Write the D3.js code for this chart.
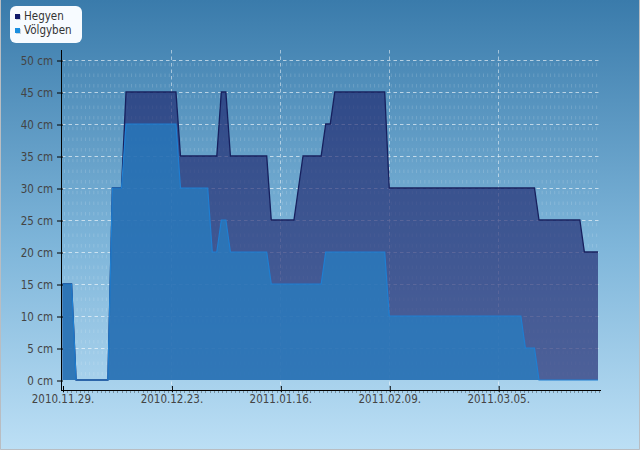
<!DOCTYPE html>
<html>
<head>
<meta charset="utf-8">
<script src="https://cdn.jsdelivr.net/npm/d3@7"></script>
<style>
  html, body { margin: 0; padding: 0; background: #fff; }
  svg { display: block; }
  text { font-family: 'DejaVu Sans Condensed', 'DejaVu Sans', sans-serif; font-stretch: condensed; fill: #444; }
</style>
</head>
<body>
<svg id="chart" width="640" height="450"></svg>
<script>
// ---- data ----
const startDate = "2010-11-29";
const endDate = "2011-03-27";
const seriesNames = ["Hegyen", "Völgyben"];
const hegyen = [
  15,15,15,
  0,0,0,0,0,0,0,0,
  30,30,30,
  45,45,45,45,45,45,45,45,45,45,45,45,
  35,35,35,35,35,35,35,35,35,
  45,45,
  35,35,35,35,35,35,35,35,35,
  25,25,25,25,25,25,
  30,
  35,35,35,35,35,
  40,40,
  45,45,45,45,45,45,45,45,45,45,45,45,
  30,30,30,30,30,30,30,30,30,30,30,30,30,30,30,30,30,30,30,30,30,30,30,30,30,30,30,30,30,30,30,30,30,
  25,25,25,25,25,25,25,25,25,25,
  20,20,20,20
];
const volgyben = [
  15,15,15,
  0,0,0,0,0,0,0,0,
  30,30,30,
  40,40,40,40,40,40,40,40,40,40,40,40,
  30,30,30,30,30,30,30,
  20,20,
  25,25,
  20,20,20,20,20,20,20,20,20,
  15,15,15,15,15,15,15,15,15,15,15,15,
  20,20,20,20,20,20,20,20,20,20,20,20,20,20,
  10,10,10,10,10,10,10,10,10,10,10,10,10,10,10,10,10,10,10,10,10,10,10,10,10,10,10,10,10,10,
  5,5,5,
  0,0,0,0,0,0,0,0,0,0,0,0,0,0
];
const xTickLabels = ["2010-11-29", "2010-12-23", "2011-01-16", "2011-02-09", "2011-03-05"];
const yTicks = [0, 5, 10, 15, 20, 25, 30, 35, 40, 45, 50];

// ---- setup ----
const W = 640, H = 450;
const svg = d3.select("#chart");
const parse = d3.utcParse("%Y-%m-%d");
const fmt = d3.utcFormat("%Y.%m.%d.");
const t0 = parse(startDate), t1 = parse(endDate);
const days = d3.utcDay.range(t0, d3.utcDay.offset(t1, 1));

const x = d3.scaleUtc().domain([t0, t1]).range([62.5, 598]);
const y = d3.scaleLinear().domain([0, 50]).range([380, 60]);
const axisTop = 50, axisBottom = 390, axisLeft = 61, axisRight = 601;

const defs = svg.append("defs");
const bg = defs.append("linearGradient").attr("id", "bg").attr("x1", 0).attr("y1", 0).attr("x2", 0).attr("y2", 1);
bg.append("stop").attr("offset", "0%").attr("stop-color", "#3a7bab");
bg.append("stop").attr("offset", "55%").attr("stop-color", "#7fb6da");
bg.append("stop").attr("offset", "100%").attr("stop-color", "#bcdff5");

svg.append("rect").attr("width", W).attr("height", H).attr("fill", "url(#bg)");
// border
svg.append("path").attr("d", `M0.5,0 V${H-0.5} H${W-0.5} V0`).attr("fill", "none").attr("stroke", "#b9bdc2");

// ---- minor grid (rows of short dashes) ----
const minorG = svg.append("g");
const majorStep = y(0) - y(5);
for (let v = 0; v <= 50; v += 5) {
  for (const k of [1, 2, 3]) {
    const yy = y(v) - k * majorStep / 3;
    if (yy < axisTop) continue;
    minorG.append("line")
      .attr("x1", axisLeft + 3).attr("x2", axisRight - 2)
      .attr("y1", yy + 4.5).attr("y2", yy + 4.5)
      .attr("stroke", "rgba(255,255,255,0.15)")
      .attr("stroke-width", 3.5)
      .attr("stroke-dasharray", "1,3.19");
  }
}

// ---- major grid ----
const gridG = svg.append("g");
gridG.selectAll("line.h").data(yTicks.filter(v => v > 0)).join("line")
  .attr("x1", axisLeft + 1).attr("x2", axisRight - 2)
  .attr("y1", d => Math.round(y(d)) + 0.5).attr("y2", d => Math.round(y(d)) + 0.5)
  .attr("stroke", "rgba(255,255,255,0.6)")
  .attr("stroke-dasharray", "3.5,3");
gridG.selectAll("line.v").data(xTickLabels.slice(1).map(parse)).join("line")
  .attr("x1", d => Math.round(x(d)) + 0.5).attr("x2", d => Math.round(x(d)) + 0.5)
  .attr("y1", axisTop).attr("y2", axisBottom)
  .attr("stroke", "rgba(255,255,255,0.5)")
  .attr("stroke-dasharray", "3.5,3");

// ---- areas ----
const hegData = days.map((d, i) => ({ date: d, v: hegyen[i] }));
const volData = days.map((d, i) => ({ date: d, v: volgyben[i] }));
const area = d3.area().x(d => x(d.date)).y0(y(0)).y1(d => y(d.v));
const line = d3.line().x(d => x(d.date)).y(d => y(d.v));

svg.append("path").datum(hegData).attr("d", area)
  .attr("fill", "rgba(30,38,110,0.66)");
svg.append("path").datum(hegData).attr("d", line)
  .attr("fill", "none").attr("stroke", "#17205e").attr("stroke-width", 1.3);

svg.append("path").datum(volData).attr("d", area)
  .attr("fill", "rgba(37,128,196,0.72)");
svg.append("path").datum(volData).attr("d", line)
  .attr("fill", "none").attr("stroke", "#1f7fd2").attr("stroke-width", 1.2);

// ---- axes ----
const axG = svg.append("g");
const minorStep = (x(parse(xTickLabels[1])) - x(parse(xTickLabels[0]))) / 26;
const minorXs = d3.range(axisLeft + 2, axisRight, minorStep);
axG.selectAll("line.mt").data(minorXs).join("line")
  .attr("x1", d => Math.round(d) + 0.5).attr("x2", d => Math.round(d) + 0.5)
  .attr("y1", axisBottom + 1).attr("y2", axisBottom + 3)
  .attr("stroke", "rgba(60,60,60,0.45)");

const xAxis = d3.axisBottom(x)
  .tickValues(xTickLabels.map(parse))
  .tickFormat(fmt)
  .tickSize(0);
const xg = axG.append("g").attr("transform", `translate(0,${axisBottom})`).call(xAxis);
xg.select(".domain").remove();
xg.selectAll("text").attr("font-size", 11.5).attr("dy", "0").attr("y", 13).style("fill", "#444");
xg.selectAll(".tick").append("line")
  .attr("x1", 0.5).attr("x2", 0.5).attr("y1", -4).attr("y2", 2)
  .attr("stroke", "#000");

const yAxis = d3.axisLeft(y)
  .tickValues(yTicks)
  .tickFormat(d => d + " cm")
  .tickSize(0);
const yg = axG.append("g").attr("transform", `translate(${axisLeft},0)`).call(yAxis);
yg.select(".domain").remove();
yg.selectAll("text").attr("font-size", 11.5).attr("x", -8).attr("dy", "0.36em").style("fill", "#444");
yg.selectAll(".tick").append("line")
  .attr("x1", -4).attr("x2", 2).attr("y1", 0.5).attr("y2", 0.5)
  .attr("stroke", "#000");

axG.append("line").attr("x1", axisLeft + 0.5).attr("x2", axisLeft + 0.5)
  .attr("y1", axisTop).attr("y2", axisBottom + 1).attr("stroke", "#000");
axG.append("line").attr("x1", axisLeft).attr("x2", axisRight)
  .attr("y1", axisBottom + 0.5).attr("y2", axisBottom + 0.5).attr("stroke", "#000");

// ---- legend ----
const legendColors = ["#101a6a", "#1a8fe0"];
const lg = svg.append("g");
lg.append("rect").attr("x", 10).attr("y", 6).attr("width", 72).attr("height", 37)
  .attr("rx", 6).attr("fill", "#f7fbff");
seriesNames.forEach((name, i) => {
  const yy = 14 + i * 14;
  lg.append("rect").attr("x", 16).attr("y", yy + 1).attr("width", 5).attr("height", 5).attr("fill", "#c8d4e0");
  lg.append("rect").attr("x", 15).attr("y", yy).attr("width", 5).attr("height", 5).attr("fill", legendColors[i]);
  lg.append("text").attr("x", 24).attr("y", yy + 6).attr("font-size", 11.5).style("fill", "#333").text(name);
});
</script>
</body>
</html>
